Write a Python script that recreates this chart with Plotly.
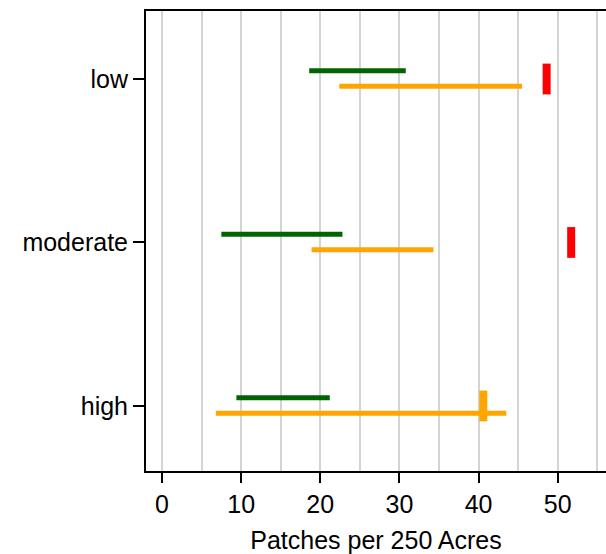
import plotly.graph_objects as go

# Fire regime categories (top to bottom) and their y positions
categories = ["low", "moderate", "high"]
cat_pos = [3, 2, 1]

# Range of patch density (patches per 250 acres) for each category
green_lo = [18.6, 7.5, 9.4]
green_hi = [30.8, 22.8, 21.2]
orange_lo = [22.4, 18.9, 6.8]
orange_hi = [45.5, 34.3, 43.5]

# Current value for each category
current_val = [48.6, 51.7, 40.6]
current_col = ["#ff0000", "#ff0000", "#ffa500"]

GREEN = "#006400"
ORANGE = "#ffa500"
FONT = "Liberation Sans, Arial, sans-serif"
FS = 25

fig = go.Figure()

# Horizontal range segments, one trace per segment
for i, y in enumerate(cat_pos):
    fig.add_trace(go.Scatter(
        x=[green_lo[i], green_hi[i]], y=[y + 0.05, y + 0.05],
        mode="lines", line=dict(color=GREEN, width=5),
        showlegend=False, hoverinfo="skip"))
    fig.add_trace(go.Scatter(
        x=[orange_lo[i], orange_hi[i]], y=[y - 0.045, y - 0.045],
        mode="lines", line=dict(color=ORANGE, width=5),
        showlegend=False, hoverinfo="skip"))

# Current value markers (vertical bars)
fig.add_trace(go.Scatter(
    x=current_val, y=cat_pos, mode="markers",
    marker=dict(symbol="line-ns-open", size=22, color=current_col,
                line=dict(color=current_col, width=8)),
    showlegend=False, hoverinfo="skip"))

fig.update_layout(
    width=606, height=554,
    margin=dict(l=146, r=0, t=11, b=83),
    plot_bgcolor="white", paper_bgcolor="white",
    font=dict(family=FONT, size=FS, color="black"),
    xaxis=dict(
        range=[-2.02, 56.1], tickmode="linear", tick0=0, dtick=10,
        showgrid=True, gridcolor="#d4d4d4", gridwidth=1.5,
        minor=dict(dtick=5, tick0=0, showgrid=True,
                   gridcolor="#d4d4d4", gridwidth=1.5, ticks=""),
        zeroline=False,
        showline=True, linecolor="black", linewidth=2, mirror=True,
        ticks="outside", ticklen=10, tickwidth=2, tickcolor="black",
        tickfont=dict(family=FONT, size=FS, color="black"),
        title=dict(text="Patches per 250 Acres", standoff=16,
                   font=dict(family=FONT, size=FS, color="black")),
    ),
    yaxis=dict(
        range=[0.602, 3.416], tickmode="array",
        tickvals=cat_pos, ticktext=categories,
        showgrid=False, zeroline=False,
        showline=True, linecolor="black", linewidth=2,
        ticks="outside", ticklen=11, tickwidth=2, tickcolor="black",
        tickfont=dict(family=FONT, size=FS, color="black"),
    ),
)

fig.write_html("out.html")
